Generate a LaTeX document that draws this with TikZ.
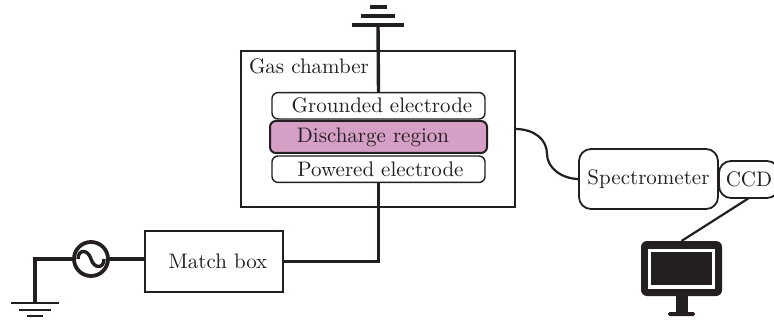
\documentclass[tikz,border=0pt]{standalone}
\usepackage{xcolor}
\usetikzlibrary{positioning}
\definecolor{ink}{HTML}{231F20}
\definecolor{plasma}{HTML}{D6A0C6}

\begin{document}
\begin{tikzpicture}[
  x=0.5pt, y=-0.5pt,
  font=\fontsize{10.5}{12}\selectfont,
  every node/.style={outer sep=0pt, inner sep=0pt, text=ink},
  box/.style={draw=ink, line width=1pt, minimum width=137pt, minimum height=78pt},
  elec/.style={draw=ink, line width=0.7pt, rounded corners=3pt,
               minimum width=106.5pt, minimum height=13.2pt},
  round box/.style={draw=ink, line width=0.9pt, rounded corners=6pt},
  wire/.style={draw=ink, line width=1.1pt},
  heavy/.style={draw=ink, line width=1.7pt}
]
  \clip (0,0) rectangle (774,320);

  \node[box] (chamber) at (378,129) {};
  \node[anchor=west] (chamberlabel) at (249,66) {Gas chamber};
  \node[elec, fill=plasma, line width=1pt, minimum width=108.5pt, minimum height=16pt] (discharge) at (378.5,137) {\hspace{-5.5pt}Discharge region};
  \node[elec, above=1pt of discharge] (grounded) {\hspace{3.5pt}Grounded electrode};
  \node[elec, below=1.5pt of discharge] (powered) {\hspace{2pt}Powered electrode};

  \node[draw=ink, line width=0.9pt, minimum width=69pt, minimum height=30.5pt] (match) at (214,261.5) {\hspace{4pt}Match box};
  \node[circle, draw=ink, line width=1.9pt, minimum size=17pt] (source) at (91,259) {};

  \node[round box, minimum width=69.5pt, minimum height=30pt] (spec) at (648.5,179) {Spectrometer};
  \node[round box, minimum width=30pt, minimum height=18.5pt, anchor=west] (ccd) at (719,179.5) {CCD};

  % monitor
  \node[fill=ink, rounded corners=3pt, minimum width=40.5pt, minimum height=27.5pt] (monitor) at (681.5,268.5) {};
  \node[fill=white, minimum width=33.5pt, minimum height=20pt] (frame) at (monitor) {};
  \node[fill=ink, minimum width=30.5pt, minimum height=16.5pt] (screen) at (monitor) {};
  \node[fill=ink, minimum width=6pt, minimum height=8pt, below=0pt of monitor] (stand) {};
  \node[fill=ink, rounded corners=0.8pt, minimum width=13.5pt, minimum height=2pt, below=0pt of stand] (foot) {};

  % ground at the top
  \coordinate (topgnd) at (378,25);
  \draw[heavy] (topgnd) -- (grounded.north);
  \draw[heavy] (352,25) -- (404,25);
  \draw[heavy] (361,16) -- (395,16);
  \draw[heavy] (370,7) -- (387,7);

  % ground on the left
  \coordinate (leftgnd) at (35,303);
  \draw[heavy] (source.west) -- (leftgnd |- source) -- (leftgnd);
  \draw[heavy, line width=1.3pt] (11,303) -- (59,303);
  \draw[heavy, line width=1.3pt] (19,310) -- (51,310);
  \draw[heavy, line width=1.3pt] (27,316) -- (43,316);

  \draw[heavy] (source.east) -- (match.west |- source);
  \draw[heavy] (78,259) .. controls (78,249) and (88,249) .. (91,259) .. controls (94,269) and (104,269) .. (104,259);

  \draw[wire] (powered.south) |- (match.east);
  \draw[wire] (chamber.east) .. controls (535,129) and (547,140) .. (547,154) .. controls (547,168) and (562,179) .. (spec.west);
  \draw[wire] (ccd.south) -- (monitor.north);
\end{tikzpicture}
\end{document}
